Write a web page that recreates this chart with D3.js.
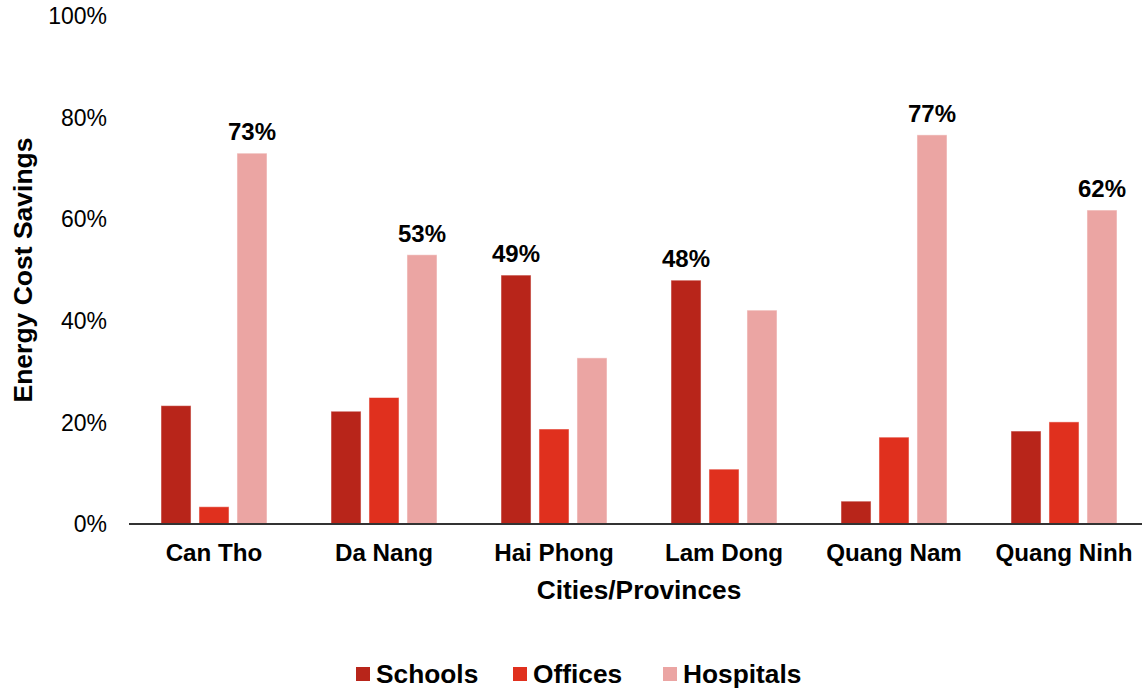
<!DOCTYPE html>
<html>
<head>
<meta charset="utf-8">
<script src="https://cdn.jsdelivr.net/npm/d3@7"></script>
<style>
  body { margin: 0; background: #fff; }
  text { font-family: "Liberation Sans", Arial, sans-serif; fill: #000; }
</style>
</head>
<body>
<svg id="chart" width="1142" height="688"></svg>
<script>
// data
const cities = ["Can Tho", "Da Nang", "Hai Phong", "Lam Dong", "Quang Nam", "Quang Ninh"];
const seriesNames = ["Schools", "Offices", "Hospitals"];
const schools = [23.3, 22.2, 49.0, 48.0, 4.5, 18.3];
const offices = [3.4, 24.9, 18.7, 10.8, 17.1, 20.1];
const hospitals = [73.0, 53.0, 32.7, 42.1, 76.6, 61.8];
const yTicks = [0, 20, 40, 60, 80, 100];
const colors = ["#b8251a", "#e0301e", "#eba5a3"];

const svg = d3.select("svg#chart");
const margin = { top: 16, right: -7, bottom: 164, left: 129 };
const width = +svg.attr("width") - margin.left - margin.right;
const height = +svg.attr("height") - margin.top - margin.bottom;
const plot = svg.append("g")
  .attr("transform", "translate(" + margin.left + "," + margin.top + ")");

const values = [schools, offices, hospitals];

const x0 = d3.scaleBand().domain(cities).range([0, width]).paddingInner(0).paddingOuter(0);
const x1 = d3.scaleBand().domain(seriesNames).range([0, 106]).paddingInner(0.21);
const y = d3.scaleLinear().domain([0, 100]).range([height, 0]);

// y axis tick labels (no line)
plot.selectAll("text.ytick").data(yTicks)
  .join("text")
  .attr("class", "ytick")
  .attr("x", -22)
  .attr("y", d => y(d))
  .attr("dy", "0.36em")
  .attr("text-anchor", "end")
  .style("font-size", "23px")
  .text(d => d + "%");

// bars
const groups = plot.selectAll("g.city").data(cities)
  .join("g")
  .attr("class", "city")
  .attr("transform", d => "translate(" + (x0(d) + x0.bandwidth() / 2 - 53) + ",0)");

groups.selectAll("rect")
  .data((c, i) => seriesNames.map((s, j) => ({ s: s, j: j, v: values[j][i] })))
  .join("rect")
  .attr("x", d => x1(d.s))
  .attr("y", d => y(d.v))
  .attr("width", x1.bandwidth())
  .attr("height", d => y(0) - y(d.v))
  .attr("fill", d => colors[d.j])
  .attr("stroke", "#fff")
  .attr("stroke-opacity", 0.5)
  .attr("stroke-width", 1);

// label only the tallest bar in each group
groups.each(function (c, i) {
  const vals = seriesNames.map((s, j) => values[j][i]);
  const k = d3.maxIndex(vals);
  d3.select(this).append("text")
    .attr("x", x1(seriesNames[k]) + x1.bandwidth() / 2)
    .attr("y", y(vals[k]) - 13)
    .attr("text-anchor", "middle")
    .style("font-size", "24px")
    .style("font-weight", "bold")
    .text(Math.round(vals[k]) + "%");
});

// baseline
plot.append("line")
  .attr("x1", 0).attr("x2", width + 10)
  .attr("y1", y(0)).attr("y2", y(0))
  .attr("stroke", "#333")
  .attr("stroke-width", 2);

// x labels
plot.selectAll("text.xtick").data(cities)
  .join("text")
  .attr("class", "xtick")
  .attr("x", d => x0(d) + x0.bandwidth() / 2)
  .attr("y", height + 37)
  .attr("text-anchor", "middle")
  .style("font-size", "24.2px")
  .style("font-weight", "bold")
  .text(d => d);

// axis titles
svg.append("text")
  .attr("x", 639)
  .attr("y", 599)
  .attr("text-anchor", "middle")
  .style("font-size", "26.3px")
  .style("font-weight", "bold")
  .text("Cities/Provinces");

svg.append("text")
  .attr("transform", "translate(32,270) rotate(-90)")
  .attr("text-anchor", "middle")
  .style("font-size", "26.5px")
  .style("font-weight", "bold")
  .text("Energy Cost Savings");

// legend
const legendX = [356, 513, 663];
const legend = svg.selectAll("g.legend").data(seriesNames)
  .join("g")
  .attr("class", "legend")
  .attr("transform", (d, i) => "translate(" + legendX[i] + ",667)");
legend.append("rect")
  .attr("width", 14).attr("height", 14)
  .attr("fill", (d, i) => colors[i]);
legend.append("text")
  .attr("x", 20)
  .attr("y", 16)
  .style("font-size", "26.3px")
  .style("font-weight", "bold")
  .text(d => d);
</script>
</body>
</html>
